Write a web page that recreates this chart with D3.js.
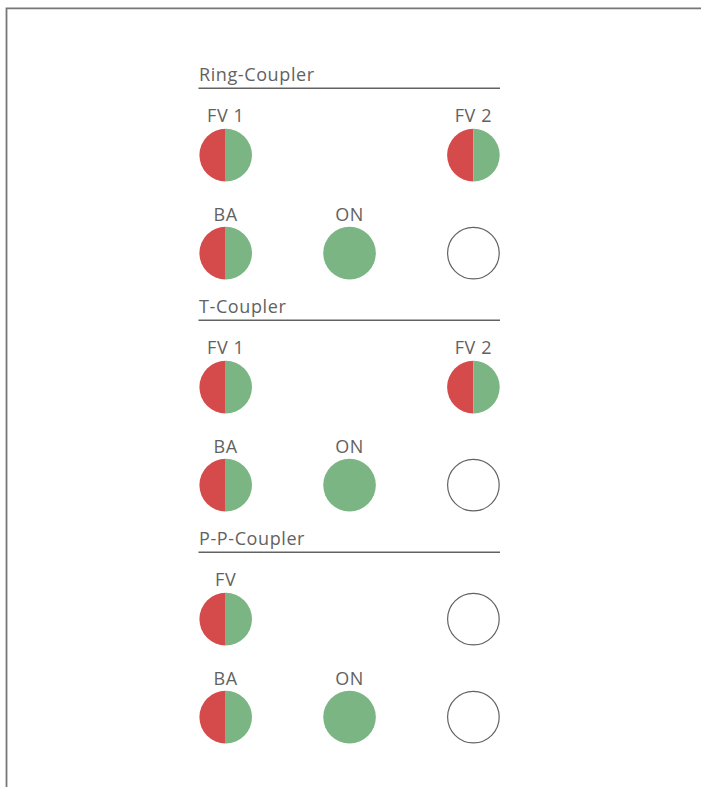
<!DOCTYPE html>
<html>
<head>
<meta charset="utf-8">
<script src="https://cdn.jsdelivr.net/npm/d3@7"></script>
<style>
  html, body { margin: 0; padding: 0; background: #fff; }
  svg { display: block; }
</style>
</head>
<body>
<script>
  // coupler sections
  const sections = ['Ring-Coupler', 'T-Coupler', 'P-P-Coupler'];

  // labels above each lamp, per section, per row, per column
  const lampLabels = [
    [['FV 1', '', 'FV 2'], ['BA', 'ON', '']],
    [['FV 1', '', 'FV 2'], ['BA', 'ON', '']],
    [['FV', '', ''], ['BA', 'ON', '']]
  ];

  // lamp states: split = red/green, on = green, off = empty ring, none = no lamp
  const lampStates = [
    [['split', 'none', 'split'], ['split', 'on', 'off']],
    [['split', 'none', 'split'], ['split', 'on', 'off']],
    [['split', 'none', 'off'], ['split', 'on', 'off']]
  ];

  const width = 701, height = 787;
  const red = '#d54a4a', green = '#7ab583', grey = '#626262';
  const font = '"Open Sans", Roboto, sans-serif';
  const r = 26.3;

  const svg = d3.select('body')
    .append('svg')
    .attr('width', width)
    .attr('height', height);

  // outer frame (top and left edge)
  svg.append('path')
    .attr('d', 'M6.5,' + height + 'V8.3H' + (width + 2))
    .attr('fill', 'none')
    .attr('stroke', '#777')
    .attr('stroke-width', 1.8);

  // scales
  const xScale = d3.scaleLinear().domain([0, 2]).range([225.7, 473.4]);
  const sectionY = d3.scaleLinear().domain([0, 2]).range([88.3, 552.3]);

  const cells = [];
  sections.forEach((s, si) => {
    lampStates[si].forEach((row, ri) => {
      row.forEach((st, ci) => {
        cells.push({ si: si, ri: ri, ci: ci, state: st, label: lampLabels[si][ri][ci] });
      });
    });
  });

  const rowCircle = [66.8, 164.8];
  const rowLabel = [33.2, 132.2];

  // section titles and rules
  const sec = svg.selectAll('.section')
    .data(sections)
    .enter()
    .append('g')
    .attr('class', 'section');

  sec.append('text')
    .attr('x', 199)
    .attr('y', (d, i) => sectionY(i) - 7.2)
    .style('font-family', font)
    .style('font-size', '18px')
    .style('letter-spacing', '0.6px')
    .style('fill', grey)
    .text(d => d);

  sec.append('line')
    .attr('x1', 198.5)
    .attr('x2', 500)
    .attr('y1', (d, i) => sectionY(i))
    .attr('y2', (d, i) => sectionY(i))
    .attr('stroke', grey)
    .attr('stroke-width', 1.5);

  // lamp labels
  svg.selectAll('.lampLabel')
    .data(cells.filter(c => c.label))
    .enter()
    .append('text')
    .attr('class', 'lampLabel')
    .attr('x', d => xScale(d.ci))
    .attr('y', d => sectionY(d.si) + rowLabel[d.ri])
    .attr('text-anchor', 'middle')
    .style('font-family', font)
    .style('font-size', '18px')
    .style('letter-spacing', '0.6px')
    .style('fill', grey)
    .text(d => d.label);

  // lamps
  const lamps = svg.selectAll('.lamp')
    .data(cells.filter(c => c.state !== 'none'))
    .enter()
    .append('g')
    .attr('class', 'lamp')
    .attr('transform', d => 'translate(' + xScale(d.ci) + ',' + (sectionY(d.si) + rowCircle[d.ri]) + ')');

  const halfArc = d3.arc().innerRadius(0).outerRadius(r);

  lamps.filter(d => d.state === 'split')
    .append('path')
    .attr('d', halfArc({ startAngle: Math.PI, endAngle: 2 * Math.PI }))
    .attr('fill', red);

  lamps.filter(d => d.state === 'split')
    .append('path')
    .attr('d', halfArc({ startAngle: 0, endAngle: Math.PI }))
    .attr('fill', green);

  lamps.filter(d => d.state === 'on')
    .append('circle')
    .attr('r', r)
    .attr('fill', green);

  lamps.filter(d => d.state === 'off')
    .append('circle')
    .attr('r', r - 0.5)
    .attr('fill', '#fff')
    .attr('stroke', grey)
    .attr('stroke-width', 1.2);
</script>
</body>
</html>
